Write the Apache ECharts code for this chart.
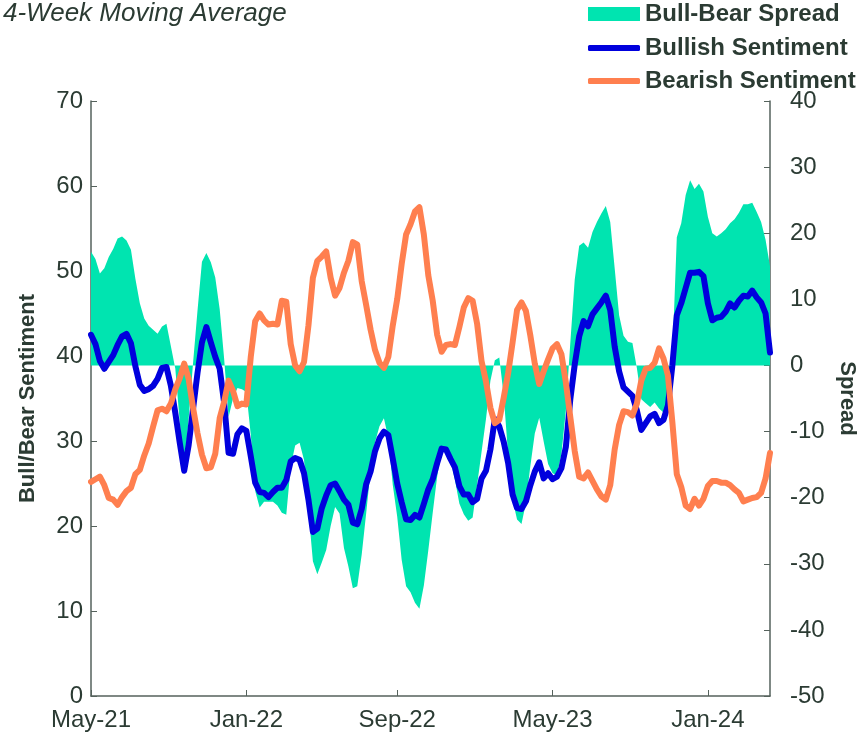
<!DOCTYPE html>
<html>
<head>
<meta charset="utf-8">
<title>4-Week Moving Average</title>
<script src="https://cdn.jsdelivr.net/npm/echarts@6.0.0/dist/echarts.min.js"></script>
<style>
    html, body { margin: 0; padding: 0; background: #fff; overflow: hidden; }
    #chart { width: 858px; height: 736px; }
</style>
</head>
<body>
<div id="chart"></div>
<script>
// weekly readings, first week 2021-05-06
const bull = [42.5, 41.4, 39.4, 38.5, 39.3, 40.1, 41.3, 42.3, 42.6, 41.5,
    38.8, 36.6, 35.9, 36.1, 36.5, 37.3, 38.6, 38.7, 36.5, 33.3,
    29.8, 26.5, 29.5, 33.8, 38.0, 41.6, 43.4, 41.6, 39.9, 38.5,
    34.5, 28.6, 28.5, 30.8, 31.5, 31.2, 28.2, 25.1, 24.0, 23.9,
    23.4, 24.0, 24.5, 24.5, 25.4, 27.6, 28.0, 27.8, 26.2, 23.1,
    19.3, 19.7, 22.1, 23.6, 24.8, 25.0, 24.1, 23.1, 22.5, 20.4,
    20.2, 22.0, 24.9, 26.4, 28.8, 30.3, 31.1, 30.7, 27.9, 25.0,
    22.8, 20.8, 20.7, 21.3, 21.0, 22.6, 24.3, 25.5, 27.4, 29.1,
    29.0, 27.9, 26.9, 24.7, 23.7, 23.7, 22.8, 23.2, 25.6, 26.5,
    29.0, 32.6, 31.7, 29.9, 27.4, 23.7, 22.1, 22.0, 22.9, 24.8,
    26.4, 27.5, 25.6, 26.2, 25.5, 25.8, 26.8, 29.3, 34.9, 39.0,
    42.3, 44.1, 43.5, 44.9, 45.6, 46.3, 47.1, 45.4, 41.1, 38.2,
    36.3, 35.8, 35.3, 33.6, 31.3, 32.1, 32.9, 33.2, 32.1, 32.5,
    34.2, 38.9, 44.8, 46.2, 48.0, 49.8, 49.8, 49.9, 49.4, 46.2,
    44.2, 44.5, 44.6, 45.2, 46.2, 45.7, 46.5, 47.1, 47.0, 47.7,
    46.9, 46.3, 45.0, 40.4];

const bear = [25.2, 25.5, 25.8, 24.8, 23.3, 23.1, 22.5, 23.4, 24.1, 24.5,
    26.1, 26.6, 28.3, 29.7, 31.7, 33.6, 33.8, 33.5, 34.4, 36.1,
    37.4, 39.1, 37.3, 33.9, 30.9, 28.4, 26.8, 26.9, 28.5, 32.7,
    34.6, 37.1, 35.9, 34.1, 34.4, 34.3, 39.9, 44.1, 45.0, 44.2,
    43.7, 43.8, 43.7, 46.5, 46.4, 41.4, 38.9, 38.2, 39.3, 43.6,
    49.2, 51.2, 51.7, 52.3, 49.2, 47.1, 48.0, 49.8, 51.2, 53.4,
    53.1, 48.8, 46.0, 43.1, 40.7, 39.2, 38.6, 39.9, 43.6, 46.7,
    50.8, 54.3, 55.5, 57.0, 57.5, 54.3, 49.5, 46.5, 42.5, 40.5,
    41.3, 41.4, 41.3, 43.4, 45.7, 46.8, 46.5, 43.8, 39.4, 37.0,
    33.9, 32.1, 32.5, 35.1, 38.0, 41.6, 45.4, 46.3, 45.3, 42.4,
    39.1, 36.7, 38.2, 39.6, 40.9, 41.4, 40.2, 36.9, 32.8, 28.8,
    25.8, 25.6, 26.3, 25.3, 24.3, 23.5, 23.1, 24.8, 29.0, 31.9,
    33.5, 33.4, 33.0, 34.4, 37.1, 38.5, 38.6, 39.2, 40.9, 39.7,
    37.7, 32.2, 26.1, 24.6, 22.4, 22.0, 23.2, 22.4, 23.2, 24.7,
    25.3, 25.3, 25.1, 25.1, 24.8, 24.3, 23.9, 22.9, 23.1, 23.3,
    23.4, 23.9, 25.6, 28.6];

const spread = [17.2, 16.1, 13.9, 14.7, 16.4, 17.6, 19.2, 19.5, 18.9, 17.5,
    13.1, 9.4, 7.1, 6.0, 5.4, 4.8, 5.9, 6.3, 2.9, -0.5,
    -8.6, -16.0, -8.1, 0.4, 8.3, 15.7, 17.0, 15.6, 13.3, 8.5,
    1.0, -7.8, -5.0, -3.4, -3.6, -4.0, -10.5, -19.0, -21.5, -20.6,
    -20.6, -20.6, -21.2, -22.3, -22.6, -15.3, -12.1, -11.7, -14.3, -22.0,
    -29.6, -31.6, -29.8, -27.9, -24.3, -21.4, -22.4, -27.6, -30.4, -33.7,
    -33.4, -28.6, -22.4, -15.9, -11.6, -9.2, -8.0, -11.0, -18.1, -22.9,
    -29.4, -33.4, -34.3, -35.9, -36.8, -33.3, -28.0, -22.3, -16.8, -12.8,
    -12.4, -14.3, -17.3, -20.9, -22.5, -23.5, -23.0, -18.1, -13.1, -8.1,
    -2.3, 0.8, 1.2, -4.6, -13.6, -20.3, -23.3, -24.0, -20.8, -15.2,
    -10.3, -7.9, -11.5, -14.9, -16.3, -16.6, -13.4, -6.8, 3.4, 13.0,
    18.1, 18.6, 17.8, 20.2, 21.7, 23.0, 24.1, 21.7, 14.7, 7.6,
    4.5, 3.6, 3.4, -0.4, -5.1, -5.7, -6.3, -5.6, -6.5, -7.1,
    -5.2, 1.4, 19.4, 21.5, 25.8, 28.0, 26.7, 27.5, 26.3, 22.5,
    20.0, 19.5, 20.0, 20.6, 21.5, 22.1, 23.1, 24.4, 24.4, 24.6,
    23.2, 21.7, 19.0, 15.0];

const tickLabels = ['May-21', 'Jan-22', 'Sep-22', 'May-23', 'Jan-24'];
const tickIndex = [0, 35, 69, 104, 139];

// week dates for the category axis
const start = Date.UTC(2021, 4, 6);
const weeks = bull.map((_, i) => new Date(start + i * 7 * 864e5).toISOString().slice(0, 10));

const textColor = '#2b3b33';
const axisColor = '#55625c';
const green = '#00e4b0';
const blue = '#0000dd';
const orange = '#ff7f4f';

const showTick = (i) => tickIndex.includes(i);

const chart = echarts.init(document.getElementById('chart'), null, { width: 858, height: 736 });

const legendText = { color: textColor, fontSize: 24, fontWeight: 'bold', fontFamily: 'Liberation Sans, Arial, sans-serif' };

chart.setOption({
    animation: false,
    textStyle: { fontFamily: 'Liberation Sans, Arial, sans-serif' },
    title: {
        text: '4-Week Moving Average',
        left: 3,
        top: 1,
        padding: 0,
        textStyle: { color: textColor, fontSize: 26, fontStyle: 'italic', fontWeight: 'normal' }
    },
    legend: [
        {
            data: ['Bull-Bear Spread'], left: 588, top: 2, padding: 0, icon: 'rect',
            itemWidth: 52, itemHeight: 14, selectedMode: false, textStyle: legendText
        },
        {
            data: ['Bullish Sentiment'], left: 588, top: 36, padding: 0, icon: 'roundRect',
            itemWidth: 52, itemHeight: 6, selectedMode: false, textStyle: legendText
        },
        {
            data: ['Bearish Sentiment'], left: 588, top: 69, padding: 0, icon: 'roundRect',
            itemWidth: 52, itemHeight: 6, selectedMode: false, textStyle: legendText
        }
    ],
    grid: { left: 91, right: 88, top: 101, bottom: 40, outerBoundsMode: 'none', containLabel: false },
    xAxis: {
        type: 'category',
        data: weeks,
        boundaryGap: false,
        axisLine: { lineStyle: { color: axisColor, width: 1.5 } },
        axisTick: { inside: true, length: 6, interval: showTick, lineStyle: { color: axisColor } },
        axisLabel: {
            interval: showTick,
            formatter: (v, i) => tickLabels[tickIndex.indexOf(i)],
            color: textColor, fontSize: 24, margin: 12
        },
        splitLine: { show: false }
    },
    yAxis: [
        {
            type: 'value', min: 0, max: 70, interval: 10,
            name: 'Bull/Bear Sentiment',
            nameLocation: 'middle', nameGap: 52,
            nameTextStyle: { color: textColor, fontSize: 22, fontWeight: 'bold' },
            axisLine: { show: true, lineStyle: { color: axisColor, width: 1.5 } },
            axisTick: { show: true, inside: true, length: 6, lineStyle: { color: axisColor } },
            axisLabel: { color: textColor, fontSize: 24, margin: 8 },
            splitLine: { show: false }
        },
        {
            type: 'value', min: -50, max: 40, interval: 10,
            position: 'right',
            name: 'Spread',
            nameLocation: 'middle', nameGap: 66, nameRotate: -90,
            nameTextStyle: { color: textColor, fontSize: 22, fontWeight: 'bold' },
            axisLine: { show: true, lineStyle: { color: axisColor, width: 1.5 } },
            axisTick: { show: true, inside: true, length: 6, lineStyle: { color: axisColor } },
            axisLabel: { color: textColor, fontSize: 24, margin: 20 },
            splitLine: { show: false }
        }
    ],
    series: [
        {
            name: 'Bull-Bear Spread',
            type: 'line',
            yAxisIndex: 1,
            data: spread,
            symbol: 'none',
            lineStyle: { width: 0, color: green },
            itemStyle: { color: green },
            areaStyle: { color: green, opacity: 1 },
            z: 1
        },
        {
            name: 'Bullish Sentiment',
            type: 'line',
            data: bull,
            symbol: 'none',
            lineStyle: { width: 6, color: blue, join: 'round', cap: 'round' },
            itemStyle: { color: blue },
            z: 2
        },
        {
            name: 'Bearish Sentiment',
            type: 'line',
            data: bear,
            symbol: 'none',
            lineStyle: { width: 6, color: orange, join: 'round', cap: 'round' },
            itemStyle: { color: orange },
            z: 3
        }
    ]
});
</script>
</body>
</html>
